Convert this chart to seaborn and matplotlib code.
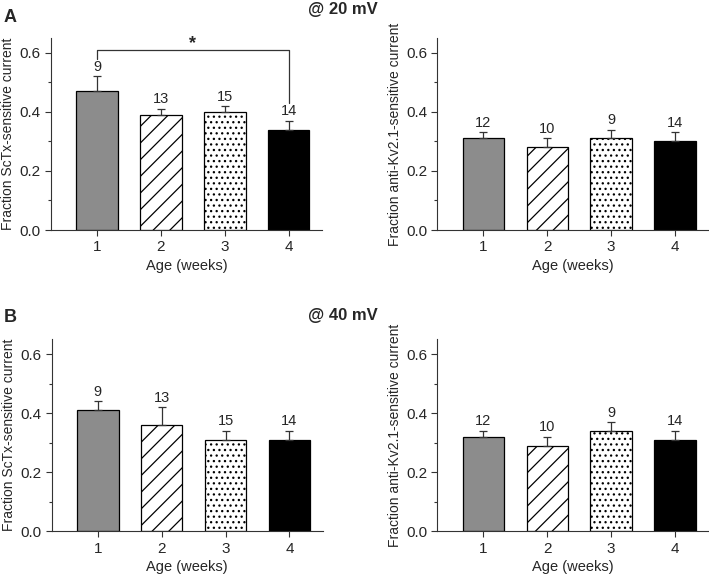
import numpy as np
import matplotlib
matplotlib.use("Agg")
import matplotlib.pyplot as plt
import seaborn as sns
from matplotlib.ticker import MultipleLocator

sns.set_style("ticks")
plt.rcParams['font.family'] = ['Liberation Sans', 'DejaVu Sans']
plt.rcParams['hatch.linewidth'] = 0.9

# data
ages = ["1", "2", "3", "4"]
sctx_20 = [0.47, 0.39, 0.40, 0.34]
sctx_20_err = [0.05, 0.02, 0.02, 0.03]
kv_20 = [0.31, 0.28, 0.31, 0.30]
kv_20_err = [0.02, 0.03, 0.03, 0.03]
sctx_40 = [0.41, 0.36, 0.31, 0.31]
sctx_40_err = [0.03, 0.06, 0.03, 0.03]
kv_40 = [0.32, 0.29, 0.34, 0.31]
kv_40_err = [0.02, 0.03, 0.03, 0.03]
n_sctx = ["9", "13", "15", "14"]
n_kv = ["12", "10", "9", "14"]

bar_colors = ["#8c8c8c", "white", "white", "black"]
hatches = ["", "//", "...", ""]


def draw_panel(ax, vals, errs, counts, ylabel):
    sns.barplot(x=ages, y=vals, hue=ages, palette=bar_colors, legend=False,
                width=0.65, edgecolor="black", linewidth=0.9, errorbar=None,
                saturation=1, ax=ax)
    for p, h in zip(ax.patches, hatches):
        p.set_hatch(h)
    pos = np.arange(len(ages))
    ax.errorbar(pos, vals, yerr=[np.zeros(len(vals)), errs], fmt="none",
                ecolor="#333333", elinewidth=0.9, capsize=3, capthick=0.9)
    for x, v, e, c in zip(pos, vals, errs, counts):
        ax.text(x, v + e + 0.008, c, ha="center", va="bottom", fontsize=10.5)
    ax.set_ylim(0, 0.65)
    ax.set_xlim(-0.72, 3.52)
    ax.yaxis.set_major_locator(MultipleLocator(0.2))
    ax.yaxis.set_minor_locator(MultipleLocator(0.1))
    ax.yaxis.set_major_formatter(matplotlib.ticker.FormatStrFormatter("%.1f"))
    ax.tick_params(axis="both", which="major", labelsize=11, length=4, width=0.8, color="#333333")
    ax.tick_params(axis="y", which="minor", length=2.5, width=0.8, color="#333333")
    ax.set_xlabel("Age (weeks)", fontsize=10.5, labelpad=3)
    ax.set_ylabel(ylabel, fontsize=10, labelpad=3)
    for s in ["left", "bottom"]:
        ax.spines[s].set_linewidth(0.8)
        ax.spines[s].set_color("#333333")
    sns.despine(ax=ax)


fig = plt.figure(figsize=(7.09, 5.75), dpi=100)
ax1 = fig.add_axes([0.072, 0.60, 0.382, 0.334])
ax2 = fig.add_axes([0.617, 0.60, 0.382, 0.334])
ax3 = fig.add_axes([0.073, 0.076, 0.382, 0.334])
ax4 = fig.add_axes([0.617, 0.076, 0.382, 0.334])

draw_panel(ax1, sctx_20, sctx_20_err, n_sctx, "Fraction ScTx-sensitive current")
draw_panel(ax2, kv_20, kv_20_err, n_kv, "Fraction anti-Kv2.1-sensitive current")
draw_panel(ax3, sctx_40, sctx_40_err, n_sctx, "Fraction ScTx-sensitive current")
draw_panel(ax4, kv_40, kv_40_err, n_kv, "Fraction anti-Kv2.1-sensitive current")

# significance bracket between week 1 and week 4
ax1.plot([0, 0, 3, 3], [0.58, 0.61, 0.61, 0.43], color="#333333", lw=0.9)
ax1.text(1.5, 0.603, "*", ha="center", va="bottom", fontsize=13, fontweight="bold")

fig.text(0.005, 0.985, "A", fontsize=13, fontweight="bold", va="top")
fig.text(0.484, 0.983, "@ 20 mV", fontsize=12, fontweight="bold", ha="center", va="center")
fig.text(0.005, 0.463, "B", fontsize=13, fontweight="bold", va="top")
fig.text(0.484, 0.452, "@ 40 mV", fontsize=12, fontweight="bold", ha="center", va="center")

fig.savefig("out.png", dpi=100)
